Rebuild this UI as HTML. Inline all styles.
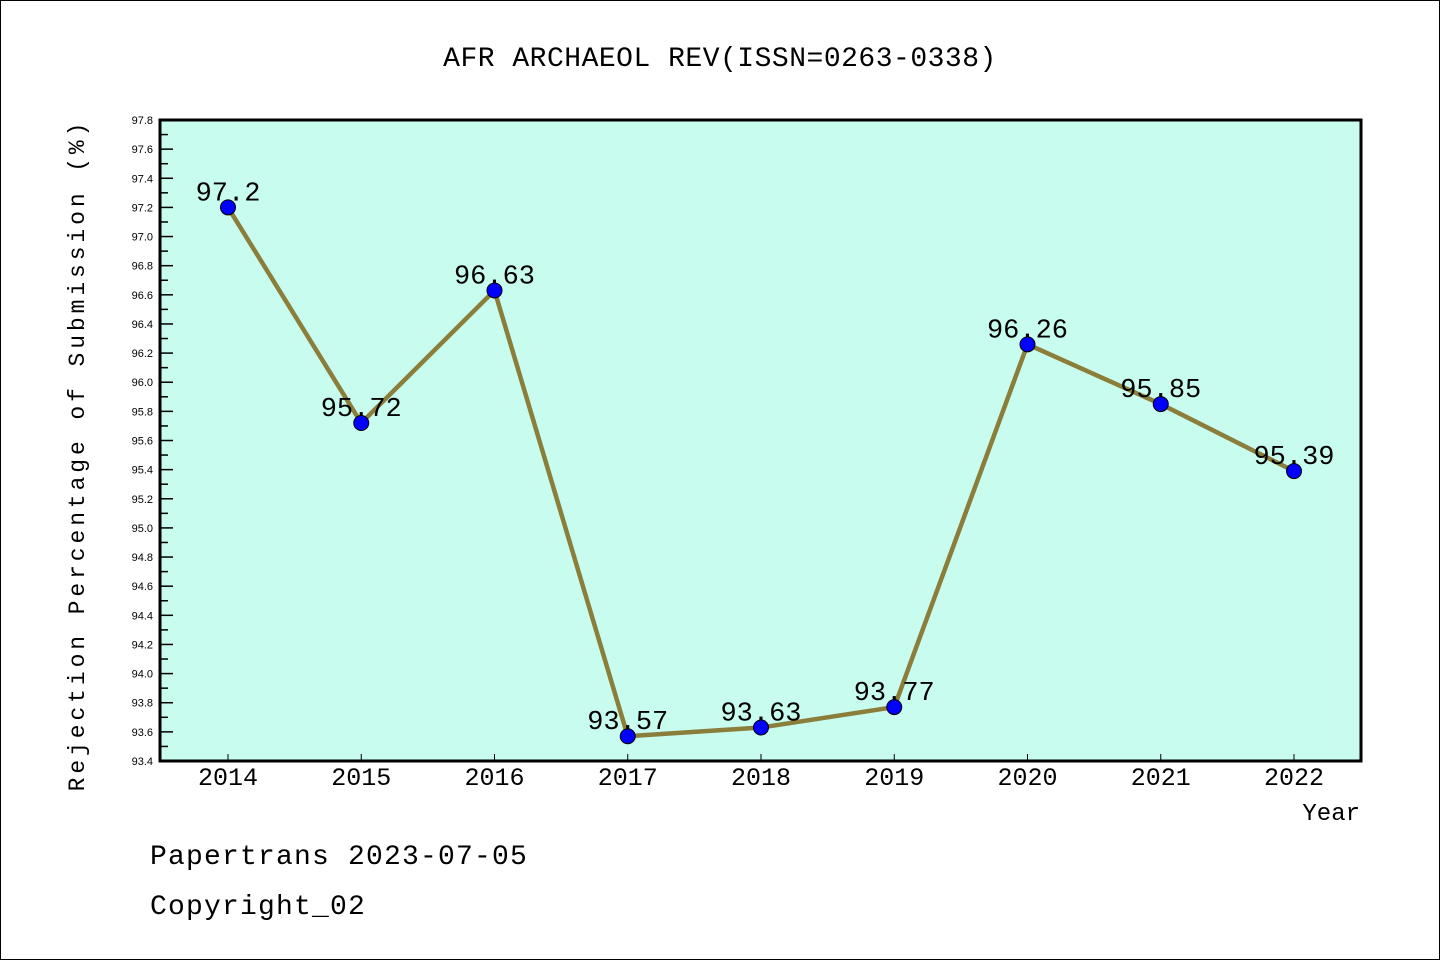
<!DOCTYPE html>
<html><head><meta charset="utf-8"><style>
body{margin:0;background:#fff}
svg text{font-family:"Liberation Mono","WenQuanYi Zen Hei",monospace}
svg text.sans{font-family:"Liberation Sans",sans-serif}
</style></head><body>
<svg width="1440" height="960" xmlns="http://www.w3.org/2000/svg">
<rect x="0.5" y="0.5" width="1439" height="959" fill="#fff" stroke="#000"/>
<text x="720" y="66" text-anchor="middle" font-size="28" letter-spacing="0.5" fill="#000">AFR ARCHAEOL REV(ISSN=0263-0338)</text>
<rect x="160" y="120" width="1201" height="641" fill="#c8fcee"/>
<g id="axes"></g>
<g id="series"></g>
<rect x="160" y="120" width="1201" height="641" fill="none" stroke="#000" stroke-width="3"/>
<text transform="translate(84,455) rotate(-90)" text-anchor="middle" font-size="23" letter-spacing="3.9">Rejection Percentage of Submission (%)</text>
<text x="1360" y="820" text-anchor="end" font-size="24">Year</text>
<text x="150" y="864" font-size="28" letter-spacing="1.2">Papertrans 2023-07-05</text>
<text x="150" y="914" font-size="28" letter-spacing="1.2">Copyright_02</text>
</svg>
<script>
const years=[2014,2015,2016,2017,2018,2019,2020,2021,2022];
const values=[97.2,95.72,96.63,93.57,93.63,93.77,96.26,95.85,95.39];
const valueLabels=["97.2","95.72","96.63","93.57","93.63","93.77","96.26","95.85","95.39"];
const yMin=93.4,yMax=97.8,yStep=0.2;
const NS="http://www.w3.org/2000/svg";
function xs(i){return 228+i*(1294-228)/(years.length-1);}
function ys(v){return 761-(v-yMin)/(yMax-yMin)*641;}
function mk(t,a,p){const e=document.createElementNS(NS,t);for(const k in a)e.setAttribute(k,a[k]);p.appendChild(e);return e;}
const ax=document.getElementById('axes'),se=document.getElementById('series');
const n=Math.round((yMax-yMin)/yStep);
for(let k=0;k<=n;k++){const v=yMin+k*yStep,y=ys(v);
 const t=mk('line',{x1:160,x2:173,y1:y,y2:y,stroke:'#000','stroke-width':1.5},ax);
 
 
 const l=mk('text',{x:153,y:y+4,'text-anchor':'end','font-size':11,'class':'sans'},ax);
 l.textContent=v.toFixed(1);
 
 
 if(k<n){const ym=ys(v+yStep/2);const m=mk('line',{x1:160,x2:168,y1:ym,y2:ym,stroke:'#000','stroke-width':1.5},ax);
 
 }
}
years.forEach((yr,i)=>{const x=xs(i);
 const t=mk('line',{x1:x,x2:x,y1:761,y2:754,stroke:'#000','stroke-width':1},ax);
 
 
 const l=mk('text',{x:x,y:785,'text-anchor':'middle','font-size':25},ax);
 l.textContent=yr;
 
 
});
const pl=mk('polyline',{points:values.map((v,i)=>xs(i)+','+ys(v)).join(' '),fill:'none',stroke:'#8b7d3a','stroke-width':4.5},se);


values.forEach((v,i)=>{
 const c=mk('circle',{cx:xs(i),cy:ys(v),r:7.5,fill:'#0000ff',stroke:'#000','stroke-width':1},se);
 
 
 const l=mk('text',{x:xs(i),y:ys(v)-7,'text-anchor':'middle','font-size':27},se);
 l.textContent=valueLabels[i];
 
 
});
</script>
</body></html>
